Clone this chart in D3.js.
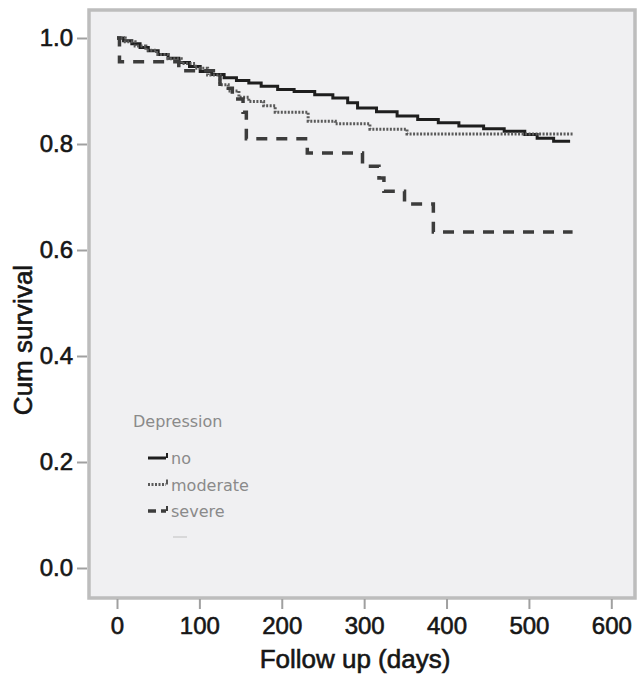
<!DOCTYPE html>
<html>
<head>
<meta charset="utf-8">
<script src="https://cdn.jsdelivr.net/npm/d3@7"></script>
<style>
  body { margin: 0; background: #fff; }
  svg { display: block; }
</style>
</head>
<body>
<svg id="chart" width="638" height="675"></svg>
<script>
// Kaplan-Meier steps: [days, cum survival]
var noDep = [
  [0, 1.000], [8, 0.995], [18, 0.989], [28, 0.982], [38, 0.976], [50, 0.969],
  [62, 0.962], [75, 0.954], [88, 0.946], [101, 0.937], [115, 0.931], [130, 0.925],
  [145, 0.920], [160, 0.915], [175, 0.909], [195, 0.903], [215, 0.899], [240, 0.893],
  [262, 0.887], [280, 0.878], [292, 0.868], [315, 0.861], [340, 0.853], [365, 0.846],
  [390, 0.840], [415, 0.834], [445, 0.829], [470, 0.824], [495, 0.818], [510, 0.811],
  [530, 0.805], [550, 0.805]
]
var moderateDep = [
  [0, 1.000], [10, 0.993], [22, 0.985], [35, 0.977], [48, 0.969], [62, 0.961],
  [78, 0.952], [95, 0.943], [110, 0.930], [125, 0.912], [135, 0.900], [148, 0.888],
  [160, 0.880], [178, 0.872], [192, 0.860], [232, 0.843], [265, 0.838], [307, 0.828],
  [352, 0.819], [554, 0.819]
]
var severeDep = [
  [0, 1.000], [3, 0.955], [75, 0.938], [125, 0.905], [140, 0.885], [153, 0.860],
  [157, 0.810], [231, 0.783], [298, 0.758], [318, 0.736], [324, 0.711], [349, 0.687],
  [384, 0.634], [553, 0.634]
]
var groups = ['no', 'moderate', 'severe']
var xTicks = [0, 100, 200, 300, 400, 500, 600]
var yTicks = [0, 0.2, 0.4, 0.6, 0.8, 1.0]

var styles = {
  no: { color: '#1e1e1e', width: 3, dash: null },
  moderate: { color: '#5a5a5a', width: 3, dash: '2,1.5' },
  severe: { color: '#3c3c3c', width: 3.5, dash: '11,9' }
}
var series = { no: noDep, moderate: moderateDep, severe: severeDep }

var svg = d3.select('#chart')
var x = d3.scaleLinear().domain([0, 600]).range([117, 611.3])
var y = d3.scaleLinear().domain([0, 1]).range([568, 38])

// plot frame
svg.append('rect')
  .attr('x', 89).attr('y', 10)
  .attr('width', 546).attr('height', 588)
  .attr('fill', '#f0f0f2')
  .attr('stroke', '#bdbdbd')
  .attr('stroke-width', 3.5)

var yAxis = svg.append('g')
  .attr('transform', 'translate(87,0)')
  .call(d3.axisLeft(y).tickValues(yTicks).tickFormat(d3.format('.1f')).tickSize(10).tickPadding(4))
var xAxis = svg.append('g')
  .attr('transform', 'translate(0,599)')
  .call(d3.axisBottom(x).tickValues(xTicks).tickSize(10).tickPadding(8))

svg.selectAll('.domain').remove()
svg.selectAll('.tick line').attr('stroke', '#a0a0a0').attr('stroke-width', 2)
svg.selectAll('.tick text')
  .attr('fill', '#161616')
  .attr('stroke', '#161616')
  .attr('stroke-width', 0.6)
  .style('font-family', 'Liberation Sans, Arial, sans-serif')
  .style('font-size', '24px')

// axis titles
svg.append('text')
  .attr('x', 355).attr('y', 668)
  .attr('text-anchor', 'middle')
  .attr('fill', '#161616')
  .attr('stroke', '#161616')
  .attr('stroke-width', 0.6)
  .style('font-family', 'Liberation Sans, Arial, sans-serif')
  .style('font-size', '26px')
  .text('Follow up (days)')

svg.append('text')
  .attr('transform', 'translate(32,340) rotate(-90)')
  .attr('text-anchor', 'middle')
  .attr('fill', '#161616')
  .attr('stroke', '#161616')
  .attr('stroke-width', 0.6)
  .style('font-family', 'Liberation Sans, Arial, sans-serif')
  .style('font-size', '26px')
  .text('Cum survival')

// survival curves
var line = d3.line()
  .x(function (d) { return x(d[0]) })
  .y(function (d) { return y(d[1]) })
  .curve(d3.curveStepAfter)

groups.forEach(function (g) {
  var s = styles[g]
  svg.append('path')
    .datum(series[g])
    .attr('d', line)
    .attr('fill', 'none')
    .attr('stroke', s.color)
    .attr('stroke-width', s.width)
    .attr('stroke-dasharray', s.dash)
})

// legend
var legend = svg.append('g').attr('transform', 'translate(133,0)')
legend.append('text')
  .attr('x', 0).attr('y', 427)
  .attr('fill', '#8a8a8a')
  .style('font-family', 'DejaVu Sans, sans-serif')
  .style('font-size', '16px')
  .text('Depression')

groups.forEach(function (g, i) {
  var s = styles[g]
  var ly = 458 + i * 26.5
  legend.append('line')
    .attr('x1', 15).attr('x2', 33)
    .attr('y1', ly).attr('y2', ly)
    .attr('stroke', s.color)
    .attr('stroke-width', s.width)
    .attr('stroke-dasharray', s.dash ? (g === 'severe' ? '8,5' : s.dash) : null)
  legend.append('line')
    .attr('x1', 34).attr('x2', 34)
    .attr('y1', ly - 5).attr('y2', ly)
    .attr('stroke', s.color)
    .attr('stroke-width', 2)
  legend.append('text')
    .attr('x', 38).attr('y', ly + 6)
    .attr('fill', '#8a8a8a')
    .style('font-family', 'DejaVu Sans, sans-serif')
    .style('font-size', '16px')
    .text(g)
})

legend.append('line')
  .attr('x1', 40).attr('x2', 54)
  .attr('y1', 537).attr('y2', 537)
  .attr('stroke', '#d0d0d0')
  .attr('stroke-width', 1.5)
</script>
</body>
</html>
